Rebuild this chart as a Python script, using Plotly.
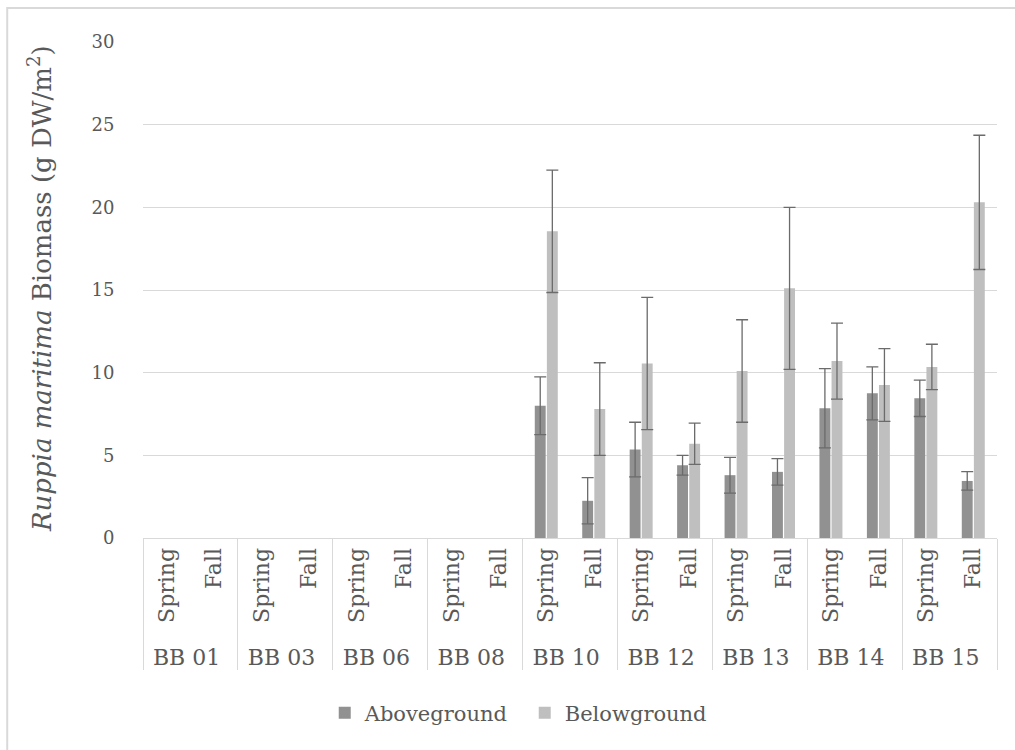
import plotly.graph_objects as go

# Sampling sites and seasons
sites = ["BB 01", "BB 03", "BB 06", "BB 08", "BB 10", "BB 12", "BB 13", "BB 14", "BB 15"]
seasons = ["Spring", "Fall"]

# Mean biomass (g DW/m2); None = no Ruppia found
above_mean = [None, None, None, None, None, None, None, None,
              8.0, 2.25, 5.35, 4.4, 3.8, 4.0, 7.85, 8.75, 8.45, 3.45]
above_err = [None, None, None, None, None, None, None, None,
             1.75, 1.4, 1.65, 0.6, 1.08, 0.8, 2.4, 1.6, 1.1, 0.56]
below_mean = [None, None, None, None, None, None, None, None,
              18.55, 7.8, 10.55, 5.7, 10.1, 15.1, 10.7, 9.25, 10.35, 20.3]
below_err = [None, None, None, None, None, None, None, None,
             3.7, 2.8, 4.0, 1.25, 3.1, 4.9, 2.3, 2.2, 1.37, 4.06]

x_site = [s for s in sites for _ in seasons]
x_season = [t for _ in sites for t in seasons]

FONT = "DejaVu Serif"
TXT = "#595959"
GRID = "#d9d9d9"
ERR = "#6b6b6b"

fig = go.Figure()
fig.add_trace(go.Bar(
    name="Aboveground", x=[x_site, x_season], y=above_mean,
    marker=dict(color="#919191", line=dict(width=0)),
    error_y=dict(type="data", array=above_err, visible=True,
                 color=ERR, thickness=1.3, width=6),
))
fig.add_trace(go.Bar(
    name="Belowground", x=[x_site, x_season], y=below_mean,
    marker=dict(color="#bfbfbf", line=dict(width=0)),
    error_y=dict(type="data", array=below_err, visible=True,
                 color=ERR, thickness=1.3, width=6),
))

fig.update_layout(
    width=1015, height=750,
    margin=dict(l=143, r=18, t=42, b=212),
    paper_bgcolor="white", plot_bgcolor="white",
    barmode="group", bargap=0.49, bargroupgap=0.1,
    font=dict(family=FONT, color=TXT, size=20),
    showlegend=True,
    legend=dict(orientation="h", x=0.447, xanchor="center", y=-0.353,
                yanchor="middle", font=dict(size=21, color=TXT, family=FONT),
                itemwidth=30, entrywidth=155, traceorder="normal"),
)

fig.update_yaxes(
    range=[0, 30], dtick=5, showgrid=True, gridcolor=GRID, gridwidth=1.3,
    zeroline=False, showline=False,
    ticks="outside", ticklen=24, tickcolor="rgba(0,0,0,0)",
    tickfont=dict(size=18, color=TXT, family=FONT),
)
fig.update_xaxes(
    type="multicategory", showline=True, linecolor=GRID, linewidth=1.3,
    showdividers=True, dividercolor=GRID, dividerwidth=1.3,
    tickangle=-90, tickfont=dict(size=22, color=TXT, family=FONT),
    showgrid=False,
)

# Axis title with italic species name
fig.add_annotation(
    text="<i>Ruppia maritima</i> Biomass (g DW/m<sup>2</sup>)",
    xref="paper", yref="paper", x=-0.1206, y=0.502,
    textangle=-90, showarrow=False, xanchor="center", yanchor="middle",
    font=dict(size=26, color=TXT, family=FONT),
)

# Chart frame
fig.add_shape(type="rect", xref="paper", yref="paper",
              x0=-0.159, x1=1.03, y0=-0.45, y1=1.0685,
              line=dict(color=GRID, width=2), layer="below")

fig.write_html("out.html")
